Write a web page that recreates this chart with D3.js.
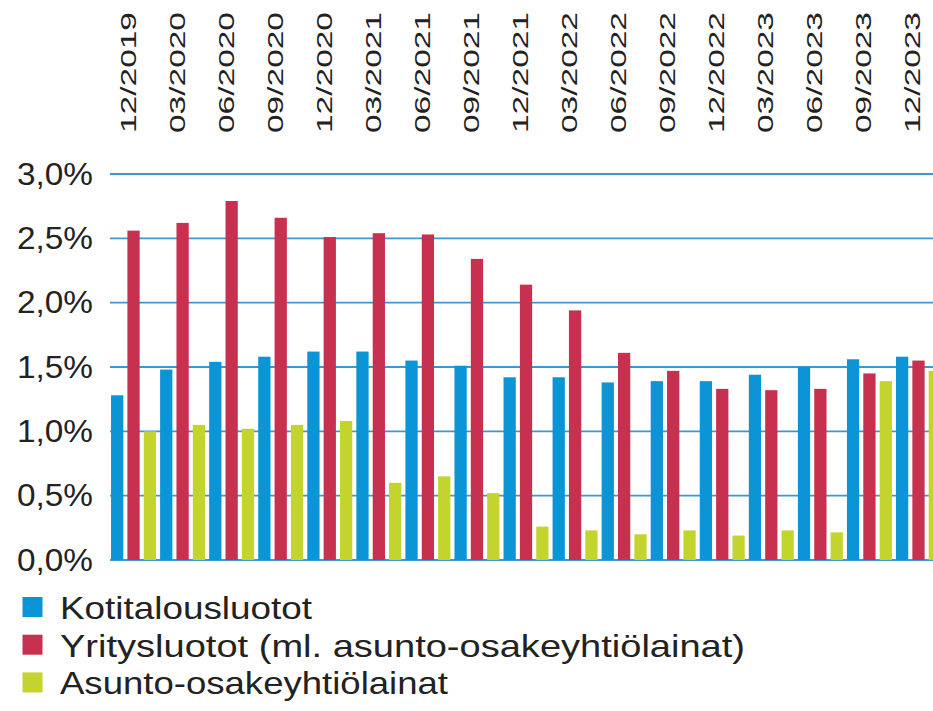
<!DOCTYPE html>
<html>
<head>
<meta charset="utf-8">
<script src="https://cdn.jsdelivr.net/npm/d3@7"></script>
<style>
  html, body { margin: 0; padding: 0; background: #ffffff; }
  svg { display: block; font-family: "Liberation Sans", Arial, sans-serif; }
</style>
</head>
<body>
<svg id="chart" width="933" height="711"></svg>
<script>
const quarters = ["12/2019","03/2020","06/2020","09/2020","12/2020","03/2021","06/2021","09/2021","12/2021","03/2022","06/2022","09/2022","12/2022","03/2023","06/2023","09/2023","12/2023"];
const seriesNames = ["Kotitalousluotot", "Yritysluotot (ml. asunto-osakeyhtiölainat)", "Asunto-osakeyhtiölainat"];
const household = [1.28,1.48,1.54,1.58,1.62,1.62,1.55,1.51,1.42,1.42,1.38,1.39,1.39,1.44,1.50,1.56,1.58];
const corporate = [2.56,2.62,2.79,2.66,2.51,2.54,2.53,2.34,2.14,1.94,1.61,1.47,1.33,1.32,1.33,1.45,1.55];
const housingCo = [1.00,1.05,1.02,1.05,1.08,0.60,0.65,0.52,0.26,0.23,0.20,0.23,0.19,0.23,0.215,1.39,1.47];
const yTicks = [0,0.5,1.0,1.5,2.0,2.5,3.0];
const colors = ["#0B94D6", "#C8304F", "#C3D42F"];

const series = [household, corporate, housingCo];
const svg = d3.select("#chart");

const x0 = d3.scaleBand().domain(quarters).range([109, 109 + 17 * 49.06]).paddingInner(0).paddingOuter(0);
const x1 = d3.scaleBand().domain([0,1,2]).range([0, x0.bandwidth()]).paddingInner(0.25).paddingOuter(0.125);
const y = d3.scaleLinear().domain([0, 3]).range([560, 174]);

// gridlines
svg.append("g").selectAll("line").data(yTicks).join("line")
  .attr("x1", 110).attr("x2", 933)
  .attr("y1", d => y(d)).attr("y2", d => y(d))
  .attr("stroke", "#3A9AD0").attr("stroke-width", 1.8);

// y tick labels
svg.append("g").selectAll("text").data(yTicks).join("text")
  .attr("x", 93).attr("y", d => y(d))
  .attr("text-anchor", "end").attr("dominant-baseline", "central")
  .attr("font-size", 31).attr("fill", "#222")
  .attr("textLength", 76).attr("lengthAdjust", "spacingAndGlyphs")
  .text(d => d3.format(".1f")(d).replace(".", ",") + "%");

// bars
const groups = svg.append("g").selectAll("g").data(quarters).join("g")
  .attr("transform", d => `translate(${x0(d)},0)`);
groups.selectAll("rect").data((q, i) => series.map((s, k) => ({k, v: s[i]}))).join("rect")
  .attr("x", d => x1(d.k)).attr("width", x1.bandwidth())
  .attr("y", d => y(d.v)).attr("height", d => y(0) - y(d.v))
  .attr("fill", d => colors[d.k]);

// x labels (top, rotated)
svg.append("g").selectAll("text").data(quarters).join("text")
  .attr("transform", d => `translate(${x0(d) + x0.bandwidth() / 2 + 2},133) rotate(-90)`)
  .attr("text-anchor", "start")
  .attr("font-size", 22).attr("fill", "#222")
  .attr("textLength", 121).attr("lengthAdjust", "spacingAndGlyphs")
  .text(d => d);

// legend
const legendW = [252, 685, 388];
const leg = svg.append("g").selectAll("g").data(seriesNames).join("g")
  .attr("transform", (d, i) => `translate(0,${607 + i * 37.7})`);
leg.append("rect").attr("x", 22.5).attr("y", -10).attr("width", 20).attr("height", 20)
  .attr("fill", (d, i) => colors[i]);
leg.append("text").attr("x", 60).attr("y", 12)
  .attr("font-size", 32).attr("fill", "#222")
  .attr("textLength", (d, i) => legendW[i]).attr("lengthAdjust", "spacingAndGlyphs")
  .text(d => d);
</script>
</body>
</html>
